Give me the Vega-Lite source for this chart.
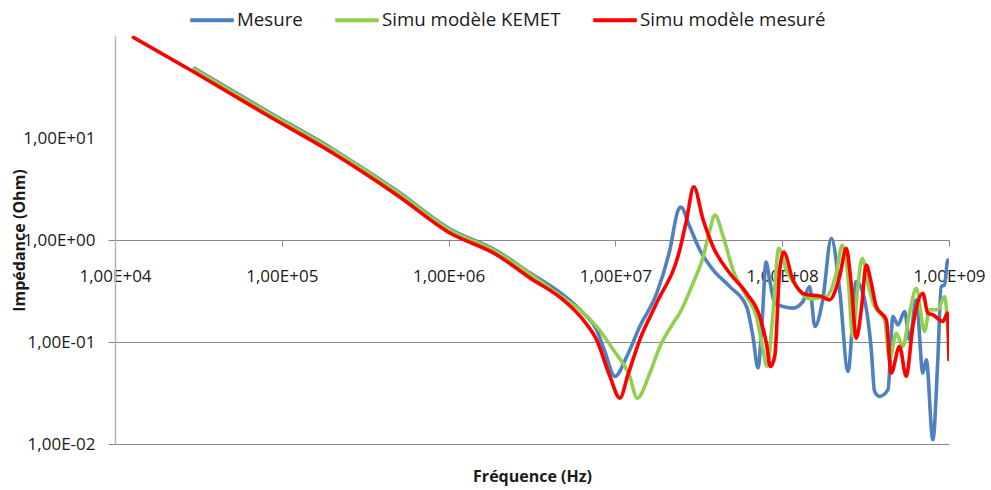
{
  "$schema": "https://vega.github.io/schema/vega-lite/v6.json",
  "width": 834,
  "height": 408,
  "autosize": {"type": "none"},
  "padding": {"left": 115, "top": 36, "right": 42, "bottom": 46},
  "background": "white",
  "config": {"view": {"stroke": null}, "font": "Open Sans"},
  "data": {
    "values": [
      {"s": "Mesure", "f": 29900, "z": 48.2},
      {"s": "Mesure", "f": 81800, "z": 18.3},
      {"s": "Mesure", "f": 203000, "z": 7.77},
      {"s": "Mesure", "f": 492000, "z": 3.02},
      {"s": "Mesure", "f": 993000, "z": 1.31},
      {"s": "Mesure", "f": 1950000, "z": 0.78},
      {"s": "Mesure", "f": 3080000, "z": 0.475},
      {"s": "Mesure", "f": 4860000, "z": 0.29},
      {"s": "Mesure", "f": 6410000, "z": 0.193},
      {"s": "Mesure", "f": 7710000, "z": 0.132},
      {"s": "Mesure", "f": 8650000, "z": 0.0802},
      {"s": "Mesure", "f": 9930000, "z": 0.046},
      {"s": "Mesure", "f": 11700000, "z": 0.0721},
      {"s": "Mesure", "f": 14000000, "z": 0.142},
      {"s": "Mesure", "f": 17700000, "z": 0.301},
      {"s": "Mesure", "f": 21200000, "z": 0.798},
      {"s": "Mesure", "f": 23800000, "z": 1.97},
      {"s": "Mesure", "f": 24700000, "z": 2.1},
      {"s": "Mesure", "f": 27900000, "z": 1.35},
      {"s": "Mesure", "f": 32100000, "z": 0.798},
      {"s": "Mesure", "f": 38500000, "z": 0.509},
      {"s": "Mesure", "f": 48500000, "z": 0.349},
      {"s": "Mesure", "f": 61100000, "z": 0.223},
      {"s": "Mesure", "f": 66800000, "z": 0.113},
      {"s": "Mesure", "f": 71600000, "z": 0.0556},
      {"s": "Mesure", "f": 76100000, "z": 0.178},
      {"s": "Mesure", "f": 80000000, "z": 0.609},
      {"s": "Mesure", "f": 84100000, "z": 0.406},
      {"s": "Mesure", "f": 90200000, "z": 0.24},
      {"s": "Mesure", "f": 101000000, "z": 0.223},
      {"s": "Mesure", "f": 116000000, "z": 0.215},
      {"s": "Mesure", "f": 133000000, "z": 0.249},
      {"s": "Mesure", "f": 146000000, "z": 0.349},
      {"s": "Mesure", "f": 157000000, "z": 0.142},
      {"s": "Mesure", "f": 175000000, "z": 0.259},
      {"s": "Mesure", "f": 197000000, "z": 1.04},
      {"s": "Mesure", "f": 221000000, "z": 0.324},
      {"s": "Mesure", "f": 248000000, "z": 0.0515},
      {"s": "Mesure", "f": 278000000, "z": 0.391},
      {"s": "Mesure", "f": 305000000, "z": 0.301},
      {"s": "Mesure", "f": 342000000, "z": 0.0839},
      {"s": "Mesure", "f": 358000000, "z": 0.0328},
      {"s": "Mesure", "f": 384000000, "z": 0.0293},
      {"s": "Mesure", "f": 431000000, "z": 0.0341},
      {"s": "Mesure", "f": 461000000, "z": 0.178},
      {"s": "Mesure", "f": 494000000, "z": 0.147},
      {"s": "Mesure", "f": 542000000, "z": 0.199},
      {"s": "Mesure", "f": 580000000, "z": 0.105},
      {"s": "Mesure", "f": 637000000, "z": 0.259},
      {"s": "Mesure", "f": 697000000, "z": 0.0496},
      {"s": "Mesure", "f": 731000000, "z": 0.067},
      {"s": "Mesure", "f": 800000000, "z": 0.011},
      {"s": "Mesure", "f": 857000000, "z": 0.067},
      {"s": "Mesure", "f": 898000000, "z": 0.349},
      {"s": "Mesure", "f": 940000000, "z": 0.363},
      {"s": "Mesure", "f": 984000000, "z": 0.637},
      {"s": "Mesure", "f": 1000000000, "z": 0.61},

      {"s": "Simu modèle KEMET", "f": 29900, "z": 47.1},
      {"s": "Simu modèle KEMET", "f": 81800, "z": 17.9},
      {"s": "Simu modèle KEMET", "f": 203000, "z": 7.6},
      {"s": "Simu modèle KEMET", "f": 492000, "z": 2.95},
      {"s": "Simu modèle KEMET", "f": 993000, "z": 1.28},
      {"s": "Simu modèle KEMET", "f": 1950000, "z": 0.763},
      {"s": "Simu modèle KEMET", "f": 3080000, "z": 0.465},
      {"s": "Simu modèle KEMET", "f": 4860000, "z": 0.271},
      {"s": "Simu modèle KEMET", "f": 6120000, "z": 0.207},
      {"s": "Simu modèle KEMET", "f": 7710000, "z": 0.142},
      {"s": "Simu modèle KEMET", "f": 9710000, "z": 0.0839},
      {"s": "Simu modèle KEMET", "f": 12200000, "z": 0.046},
      {"s": "Simu modèle KEMET", "f": 13500000, "z": 0.0282},
      {"s": "Simu modèle KEMET", "f": 16100000, "z": 0.0496},
      {"s": "Simu modèle KEMET", "f": 18500000, "z": 0.0904},
      {"s": "Simu modèle KEMET", "f": 22200000, "z": 0.153},
      {"s": "Simu modèle KEMET", "f": 24300000, "z": 0.192},
      {"s": "Simu modèle KEMET", "f": 29200000, "z": 0.377},
      {"s": "Simu modèle KEMET", "f": 33600000, "z": 0.687},
      {"s": "Simu modèle KEMET", "f": 36800000, "z": 1.25},
      {"s": "Simu modèle KEMET", "f": 39500000, "z": 1.76},
      {"s": "Simu modèle KEMET", "f": 44300000, "z": 1.08},
      {"s": "Simu modèle KEMET", "f": 50700000, "z": 0.509},
      {"s": "Simu modèle KEMET", "f": 61100000, "z": 0.279},
      {"s": "Simu modèle KEMET", "f": 70100000, "z": 0.178},
      {"s": "Simu modèle KEMET", "f": 76700000, "z": 0.0839},
      {"s": "Simu modèle KEMET", "f": 81100000, "z": 0.0576},
      {"s": "Simu modèle KEMET", "f": 88100000, "z": 0.192},
      {"s": "Simu modèle KEMET", "f": 95300000, "z": 0.83},
      {"s": "Simu modèle KEMET", "f": 106000000, "z": 0.509},
      {"s": "Simu modèle KEMET", "f": 122000000, "z": 0.349},
      {"s": "Simu modèle KEMET", "f": 146000000, "z": 0.265},
      {"s": "Simu modèle KEMET", "f": 184000000, "z": 0.279},
      {"s": "Simu modèle KEMET", "f": 211000000, "z": 0.472},
      {"s": "Simu modèle KEMET", "f": 229000000, "z": 0.893},
      {"s": "Simu modèle KEMET", "f": 248000000, "z": 0.438},
      {"s": "Simu modèle KEMET", "f": 265000000, "z": 0.113},
      {"s": "Simu modèle KEMET", "f": 284000000, "z": 0.349},
      {"s": "Simu modèle KEMET", "f": 302000000, "z": 0.662},
      {"s": "Simu modèle KEMET", "f": 326000000, "z": 0.377},
      {"s": "Simu modèle KEMET", "f": 358000000, "z": 0.223},
      {"s": "Simu modèle KEMET", "f": 411000000, "z": 0.165},
      {"s": "Simu modèle KEMET", "f": 440000000, "z": 0.067},
      {"s": "Simu modèle KEMET", "f": 483000000, "z": 0.122},
      {"s": "Simu modèle KEMET", "f": 529000000, "z": 0.0904},
      {"s": "Simu modèle KEMET", "f": 580000000, "z": 0.192},
      {"s": "Simu modèle KEMET", "f": 637000000, "z": 0.337},
      {"s": "Simu modèle KEMET", "f": 713000000, "z": 0.127},
      {"s": "Simu modèle KEMET", "f": 764000000, "z": 0.207},
      {"s": "Simu modèle KEMET", "f": 857000000, "z": 0.207},
      {"s": "Simu modèle KEMET", "f": 940000000, "z": 0.279},
      {"s": "Simu modèle KEMET", "f": 1000000000, "z": 0.0839},

      {"s": "Simu modèle mesuré", "f": 12900, "z": 96.9},
      {"s": "Simu modèle mesuré", "f": 29900, "z": 44.1},
      {"s": "Simu modèle mesuré", "f": 81800, "z": 16.7},
      {"s": "Simu modèle mesuré", "f": 203000, "z": 7.1},
      {"s": "Simu modèle mesuré", "f": 492000, "z": 2.75},
      {"s": "Simu modèle mesuré", "f": 993000, "z": 1.2},
      {"s": "Simu modèle mesuré", "f": 1950000, "z": 0.714},
      {"s": "Simu modèle mesuré", "f": 3080000, "z": 0.425},
      {"s": "Simu modèle mesuré", "f": 4860000, "z": 0.259},
      {"s": "Simu modèle mesuré", "f": 6410000, "z": 0.165},
      {"s": "Simu modèle mesuré", "f": 7710000, "z": 0.105},
      {"s": "Simu modèle mesuré", "f": 9270000, "z": 0.046},
      {"s": "Simu modèle mesuré", "f": 10640000, "z": 0.0282},
      {"s": "Simu modèle mesuré", "f": 11900000, "z": 0.0478},
      {"s": "Simu modèle mesuré", "f": 14000000, "z": 0.105},
      {"s": "Simu modèle mesuré", "f": 17700000, "z": 0.242},
      {"s": "Simu modèle mesuré", "f": 24300000, "z": 0.798},
      {"s": "Simu modèle mesuré", "f": 26700000, "z": 1.57},
      {"s": "Simu modèle mesuré", "f": 29500000, "z": 3.32},
      {"s": "Simu modèle mesuré", "f": 33600000, "z": 1.57},
      {"s": "Simu modèle mesuré", "f": 38500000, "z": 0.86},
      {"s": "Simu modèle mesuré", "f": 48500000, "z": 0.472},
      {"s": "Simu modèle mesuré", "f": 61100000, "z": 0.301},
      {"s": "Simu modèle mesuré", "f": 73300000, "z": 0.178},
      {"s": "Simu modèle mesuré", "f": 80400000, "z": 0.0976},
      {"s": "Simu modèle mesuré", "f": 84900000, "z": 0.0576},
      {"s": "Simu modèle mesuré", "f": 90200000, "z": 0.0721},
      {"s": "Simu modèle mesuré", "f": 96600000, "z": 0.509},
      {"s": "Simu modèle mesuré", "f": 102100000, "z": 0.76},
      {"s": "Simu modèle mesuré", "f": 116000000, "z": 0.406},
      {"s": "Simu modèle mesuré", "f": 140000000, "z": 0.29},
      {"s": "Simu modèle mesuré", "f": 168000000, "z": 0.283},
      {"s": "Simu modèle mesuré", "f": 192000000, "z": 0.259},
      {"s": "Simu modèle mesuré", "f": 221000000, "z": 0.438},
      {"s": "Simu modèle mesuré", "f": 242000000, "z": 0.83},
      {"s": "Simu modèle mesuré", "f": 259000000, "z": 0.377},
      {"s": "Simu modèle mesuré", "f": 278000000, "z": 0.109},
      {"s": "Simu modèle mesuré", "f": 298000000, "z": 0.207},
      {"s": "Simu modèle mesuré", "f": 319000000, "z": 0.569},
      {"s": "Simu modèle mesuré", "f": 342000000, "z": 0.377},
      {"s": "Simu modèle mesuré", "f": 366000000, "z": 0.223},
      {"s": "Simu modèle mesuré", "f": 421000000, "z": 0.165},
      {"s": "Simu modèle mesuré", "f": 450000000, "z": 0.0496},
      {"s": "Simu modèle mesuré", "f": 505000000, "z": 0.0904},
      {"s": "Simu modèle mesuré", "f": 554000000, "z": 0.046},
      {"s": "Simu modèle mesuré", "f": 607000000, "z": 0.142},
      {"s": "Simu modèle mesuré", "f": 697000000, "z": 0.301},
      {"s": "Simu modèle mesuré", "f": 746000000, "z": 0.192},
      {"s": "Simu modèle mesuré", "f": 800000000, "z": 0.185},
      {"s": "Simu modèle mesuré", "f": 918000000, "z": 0.159},
      {"s": "Simu modèle mesuré", "f": 980000000, "z": 0.192},
      {"s": "Simu modèle mesuré", "f": 1000000000, "z": 0.067}
    ]
  },
  "mark": {"type": "line", "strokeWidth": 3.6, "clip": true, "strokeJoin": "round", "strokeCap": "round", "interpolate": "monotone"},
  "encoding": {
    "x": {
      "field": "f",
      "type": "quantitative",
      "scale": {"type": "log", "domain": [10000, 1000000000], "nice": false},
      "axis": {
        "values": [10000, 100000, 1000000, 10000000, 100000000, 1000000000],
        "offset": -204,
        "domain": false,
        "grid": false,
        "ticks": true,
        "tickColor": "#888888",
        "tickSize": 6,
        "labelExpr": "'1,00E' + (datum.value >= 1 ? '+' : '-') + pad('' + abs(round(log(datum.value) / LN10)), 2, '0', 'left')",
        "labelFont": "Open Sans",
        "labelFontSize": 17,
        "labelColor": "#1a1a1a",
        "labelPadding": 22,
        "labelFlush": false,
        "labelOverlap": false,
        "title": "Fréquence (Hz)",
        "titleFont": "Open Sans",
        "titleFontSize": 16,
        "titleFontWeight": "bold",
        "titleColor": "#1a1a1a",
        "titleBaseline": "alphabetic",
        "titleY": 241,
        "titleX": 417,
        "titleAlign": "center"
      }
    },
    "y": {
      "field": "z",
      "type": "quantitative",
      "scale": {"type": "log", "domain": [0.01, 100], "nice": false},
      "axis": {
        "values": [0.01, 0.1, 1, 10],
        "domain": true,
        "domainColor": "#b4b4b4",
        "domainWidth": 1.5,
        "grid": true,
        "gridColor": {"condition": {"test": "datum.value <= 1", "value": "#878787"}, "value": "transparent"},
        "gridWidth": 1.2,
        "ticks": true,
        "tickColor": {"condition": {"test": "datum.value <= 1", "value": "#878787"}, "value": "transparent"},
        "tickSize": 7,
        "labelExpr": "'1,00E' + (datum.value >= 1 ? '+' : '-') + pad('' + abs(round(log(datum.value) / LN10)), 2, '0', 'left')",
        "labelFont": "Open Sans",
        "labelFontSize": 17,
        "labelColor": "#1a1a1a",
        "labelPadding": 13,
        "labelOverlap": false,
        "title": "Impédance (Ohm)",
        "titleFont": "Open Sans",
        "titleFontSize": 16,
        "titleFontWeight": "bold",
        "titleColor": "#1a1a1a",
        "titleAngle": -90,
        "titleBaseline": "alphabetic",
        "titleAlign": "center",
        "titleX": -91,
        "titleY": 204
      }
    },
    "color": {
      "field": "s",
      "type": "nominal",
      "scale": {
        "domain": ["Mesure", "Simu modèle KEMET", "Simu modèle mesuré"],
        "range": ["#4F81BD", "#92CF50", "#FF0000"]
      },
      "legend": {
        "title": null,
        "orient": "none",
        "direction": "horizontal",
        "legendX": 73,
        "legendY": -40,
        "padding": 0,
        "symbolType": "stroke",
        "symbolSize": 1900,
        "symbolStrokeWidth": 4,
        "labelFont": "Open Sans",
        "labelFontSize": 18.7,
        "labelColor": "#1a1a1a",
        "labelOffset": 1,
        "columnPadding": 24,
        "labelLimit": 300
      }
    }
  }
}
